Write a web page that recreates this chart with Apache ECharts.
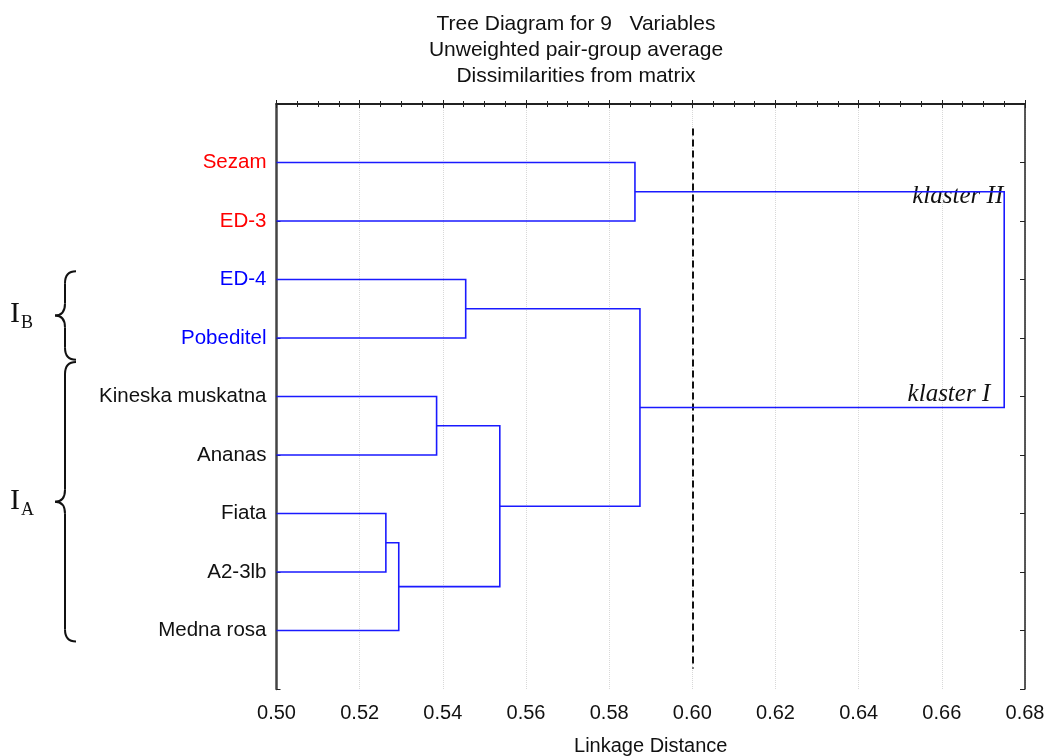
<!DOCTYPE html>
<html>
<head>
<meta charset="utf-8">
<script src="https://cdn.jsdelivr.net/npm/echarts@6/dist/echarts.min.js"></script>
<style>
  html, body { margin: 0; padding: 0; background: #fff; }
  #chart { width: 1047px; height: 756px; }
</style>
</head>
<body>
<div id="chart"></div>
<script>
// Leaf varieties, top to bottom
const leaves = ['Sezam', 'ED-3', 'ED-4', 'Pobeditel', 'Kineska muskatna', 'Ananas', 'Fiata', 'A2-3lb', 'Medna rosa'];
const leafColors = ['#ff0000', '#ff0000', '#0000ff', '#0000ff', '#111111', '#111111', '#111111', '#111111', '#111111'];

// Merge steps: [node a, node b, linkage distance]; nodes 0-8 are leaves, 9+ are the merges in order
const merges = [
  [6, 7, 0.5263],   // 9  Fiata + A2-3lb
  [9, 8, 0.5294],   // 10 + Medna rosa
  [4, 5, 0.5385],   // 11 Kineska muskatna + Ananas
  [2, 3, 0.5455],   // 12 ED-4 + Pobeditel
  [11, 10, 0.5537], // 13
  [0, 1, 0.5862],   // 14 Sezam + ED-3
  [12, 13, 0.5874], // 15 klaster I
  [14, 15, 0.6750]  // 16 klaster I + klaster II
];

// Linkage distance axis
const xMin = 0.50, xMax = 0.68, xStep = 0.02;
// Cut-off line and its vertical extent (in leaf-slot units)
const cutoff = 0.60;
const cutoffSpan = [0.42, 9.65];
// Group braces on the left: leaf-slot extent of each group
const groups = [
  { sub: 'B', from: 2.86, to: 4.37 },
  { sub: 'A', from: 4.41, to: 9.19 }
];
const clusterNames = ['klaster II', 'klaster I'];

// Build node positions and the dendrogram polylines
const nodeX = [], nodeY = [];
leaves.forEach((_, i) => { nodeX.push(xMin); nodeY.push(i + 1); });
const branches = merges.map(([a, b, h]) => {
  const coords = [[nodeX[a], nodeY[a]], [h, nodeY[a]], [h, nodeY[b]], [nodeX[b], nodeY[b]]];
  nodeX.push(h);
  nodeY.push((nodeY[a] + nodeY[b]) / 2);
  return { coords };
});

const FONT = "'Liberation Sans', Arial, sans-serif";
const SERIF = "'Liberation Serif', 'Times New Roman', serif";

const rich = {};
leaves.forEach((name, i) => { rich['c' + i] = { color: leafColors[i], fontSize: 20.5, fontFamily: FONT }; });

const chart = echarts.init(document.getElementById('chart'));
const tickStyle = { color: '#222', width: 1 };

chart.setOption({
  animation: false,
  backgroundColor: '#fff',
  title: {
    text: 'Tree Diagram for 9   Variables\nUnweighted pair-group average\nDissimilarities from matrix',
    left: 571, top: 6, textAlign: 'center',
    textStyle: { fontSize: 21, fontWeight: 'normal', lineHeight: 26, color: '#111', fontFamily: FONT }
  },
  grid: { left: 276.5, right: 22, top: 104, bottom: 67, containLabel: false, outerBoundsMode: 'none' },
  xAxis: [
    {
      type: 'value', position: 'bottom', min: xMin, max: xMax, interval: xStep,
      name: 'Linkage Distance', nameLocation: 'middle', nameGap: 47,
      nameTextStyle: { fontSize: 20, color: '#111', fontFamily: FONT },
      axisLine: { show: true, lineStyle: { color: '#222', width: 2 } },
      axisTick: { show: true, inside: true, length: 4, lineStyle: tickStyle },
      minorTick: { show: true, splitNumber: 4, length: 3, lineStyle: tickStyle },
      axisLabel: { fontSize: 20, color: '#111', fontFamily: FONT, margin: 14, formatter: v => v.toFixed(2) },
      splitLine: { show: true, lineStyle: { color: '#d8d8d8', type: 'dotted', width: 1 } }
    },
    {
      type: 'value', position: 'top', min: xMin, max: xMax, interval: xStep,
      axisLine: { show: true, lineStyle: { color: '#222', width: 1.5 } },
      axisTick: { show: true, inside: true, length: 4, lineStyle: tickStyle },
      minorTick: { show: true, splitNumber: 4, length: 3, lineStyle: tickStyle },
      axisLabel: { show: false },
      splitLine: { show: false }
    }
  ],
  yAxis: [
    {
      type: 'value', position: 'left', inverse: true, min: 0, max: leaves.length + 1, interval: 1,
      axisLine: { show: true, lineStyle: { color: '#444', width: 2.5 } },
      axisTick: { show: true, inside: true, length: 4, lineStyle: tickStyle },
      axisLabel: {
        margin: 10, rich: rich,
        formatter: v => {
          const i = Math.round(v) - 1;
          return (i >= 0 && i < leaves.length) ? '{c' + i + '|' + leaves[i] + '}' : '';
        }
      },
      splitLine: { show: false }
    },
    {
      type: 'value', position: 'right', inverse: true, min: 0, max: leaves.length + 1, interval: 1,
      axisLine: { show: true, lineStyle: { color: '#222', width: 1.5 } },
      axisTick: { show: true, inside: true, length: 5, lineStyle: tickStyle },
      axisLabel: { show: false },
      splitLine: { show: false }
    }
  ],
  series: [
    {
      type: 'lines', coordinateSystem: 'cartesian2d', polyline: true,
      xAxisIndex: 0, yAxisIndex: 0,
      data: branches,
      lineStyle: { color: '#1a1aff', width: 1.6, opacity: 1 },
      silent: true, z: 3
    },
    {
      type: 'lines', coordinateSystem: 'cartesian2d',
      xAxisIndex: 0, yAxisIndex: 0,
      data: [{ coords: [[cutoff, cutoffSpan[0]], [cutoff, cutoffSpan[1]]] }],
      lineStyle: { color: '#111', width: 2, type: [7, 4], opacity: 1 },
      silent: true, z: 2
    }
  ]
});

// Annotations placed from data coordinates
const toPx = (x, y) => chart.convertToPixel({ xAxisIndex: 0, yAxisIndex: 0 }, [x, y]);
const graphics = [];
const braceStroke = { stroke: '#111', lineWidth: 2, fill: null };

groups.forEach(g => {
  const y1 = toPx(xMin, g.from)[1], y2 = toPx(xMin, g.to)[1];
  const ym = (y1 + y2) / 2;
  const xr = 76, xm = 65, xl = 55, r = 12;
  // curly brace: two straight runs joined by quadratic curls
  graphics.push({ type: 'bezierCurve', shape: { x1: xr, y1: y1, cpx1: xm, cpy1: y1, x2: xm, y2: y1 + r }, style: braceStroke });
  graphics.push({ type: 'line', shape: { x1: xm, y1: y1 + r, x2: xm, y2: ym - r }, style: braceStroke });
  graphics.push({ type: 'bezierCurve', shape: { x1: xm, y1: ym - r, cpx1: xm, cpy1: ym, x2: xl, y2: ym }, style: braceStroke });
  graphics.push({ type: 'bezierCurve', shape: { x1: xl, y1: ym, cpx1: xm, cpy1: ym, x2: xm, y2: ym + r }, style: braceStroke });
  graphics.push({ type: 'line', shape: { x1: xm, y1: ym + r, x2: xm, y2: y2 - r }, style: braceStroke });
  graphics.push({ type: 'bezierCurve', shape: { x1: xm, y1: y2 - r, cpx1: xm, cpy1: y2, x2: xr, y2: y2 }, style: braceStroke });
  graphics.push({ type: 'text', x: 10, y: ym - 1, style: { text: 'I', font: `30px ${SERIF}`, fill: '#111', verticalAlign: 'middle' } });
  graphics.push({ type: 'text', x: 21, y: ym + 8, style: { text: g.sub, font: `18px ${SERIF}`, fill: '#111', verticalAlign: 'middle' } });
});

// Cluster labels next to the final merge
const lastMerge = merges[merges.length - 1];
const pUpper = toPx(lastMerge[2], nodeY[lastMerge[0]]);
const pLower = toPx(lastMerge[2], nodeY[lastMerge[1]]);
graphics.push({ type: 'text', x: pUpper[0] - 1, y: pUpper[1] + 17,
  style: { text: clusterNames[0], font: `italic 25px ${SERIF}`, fill: '#111', align: 'right', verticalAlign: 'bottom' } });
graphics.push({ type: 'text', x: pLower[0] - 14, y: pLower[1] - 1,
  style: { text: clusterNames[1], font: `italic 25px ${SERIF}`, fill: '#111', align: 'right', verticalAlign: 'bottom' } });

chart.setOption({ graphic: graphics });
</script>
</body>
</html>
